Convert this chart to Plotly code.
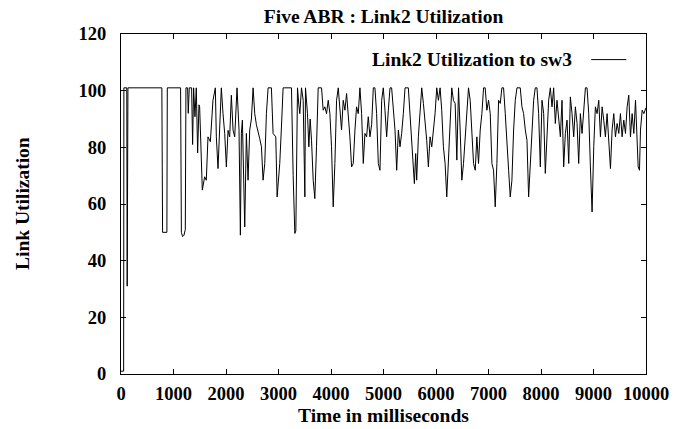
import plotly.graph_objects as go

# Time (ms) and link utilization (%)
time_ms = [
    0, 50, 55, 110, 118, 125, 132, 778, 792, 874, 882, 1135, 1150, 1173, 1200, 1225, 1237,
    1269, 1281, 1300, 1345, 1364, 1383, 1409, 1434, 1460, 1485,
    1498, 1549, 1593, 1625, 1657, 1702, 1752, 1797, 1816, 1848, 1880, 1911, 1943, 1975,
    2007, 2039, 2070, 2102, 2134, 2166, 2210, 2248, 2274, 2293, 2312, 2357, 2388, 2420,
    2452, 2484, 2516, 2547, 2579, 2611, 2643, 2675, 2706, 2738, 2770, 2802, 2865, 2897,
    2929, 2948, 2974, 3024, 3056, 3088,
    3120, 3247, 3279, 3311, 3330, 3362, 3387, 3406, 3438, 3470, 3502, 3514, 3552, 3578,
    3603, 3629, 3661, 3692, 3724, 3756, 3820, 3851, 3883, 3915, 3947, 3979, 4010, 4042,
    4074, 4106, 4138, 4169, 4201, 4233, 4265, 4297, 4328, 4360, 4392, 4424, 4456, 4487,
    4519, 4551, 4583, 4615, 4646, 4678, 4710,
    4742, 4774, 4806, 4837, 4869, 4901, 4933, 4965, 4996, 5028, 5060, 5092, 5124, 5155,
    5187, 5219, 5251, 5283, 5314, 5346, 5378, 5410, 5473, 5505, 5537, 5569, 5588, 5613,
    5632, 5664, 5696, 5728, 5760, 5791, 5823, 5855, 5887, 5919, 5950, 5982, 6014, 6046,
    6078, 6109, 6141, 6173, 6205, 6237, 6268, 6300, 6332,
    6365, 6397, 6429, 6460, 6492, 6524, 6556, 6588, 6619, 6651, 6683, 6715, 6747, 6778,
    6810, 6842, 6874, 6906, 6937, 6969, 7001, 7033, 7065, 7096, 7128, 7160, 7192, 7224,
    7255, 7287, 7319, 7351, 7383, 7414, 7446, 7478, 7510, 7542, 7605, 7637, 7669, 7701,
    7733, 7764, 7796, 7828, 7860, 7891, 7923, 7955,
    7987, 8019, 8051, 8082, 8114, 8146, 8178, 8210, 8241, 8273, 8305, 8337, 8369, 8400,
    8432, 8464, 8496, 8528, 8559, 8591, 8623, 8655, 8687, 8718, 8750, 8782, 8814, 8846,
    8877, 8909, 8941, 8973, 9005, 9036, 9068, 9100, 9132, 9164, 9195, 9227, 9259, 9291,
    9323, 9354, 9386, 9418, 9450, 9482, 9513, 9545, 9577, 9609, 9641, 9672, 9704, 9736,
    9768, 9800, 9832, 9851, 9876, 9895, 9927, 9959, 10000,
]
utilization = [
    1, 1, 101, 101, 31, 50, 101, 101, 50, 50, 101, 101, 50, 48.5, 49, 51, 101,
    101, 92, 101, 101, 81, 101, 90.8, 101, 78, 95,
    94.3, 64.9, 69.6, 68.4, 83.7, 82, 96.6, 101, 83.7, 72.5, 85, 101, 91.9, 84.9,
    73.1, 86, 83.7, 98.4, 86.1, 83.7, 101, 86.1, 49.0, 85, 89.6, 51.9, 84.9, 68.4,
    86.1, 90, 101, 91.9, 88, 84.9, 83, 80.2, 68.4, 74.3, 91.9, 101, 101, 84.9,
    84, 83.7, 62.5, 74.3, 87.2, 101,
    101, 101, 70, 49.6, 50.5, 101, 95, 91.9, 101, 96.6, 62.5, 101, 91.9, 80.2,
    90, 82.5, 68.4, 61.9, 80.2, 101, 101, 93.1, 94.3, 91.9, 96.6, 91.9, 80.2, 59.0,
    74.3, 96.6, 101, 94.3, 86.1, 96.6, 93.1, 99, 91.9, 83.7, 73.1, 74.3, 86.1, 94.3,
    91.9, 101, 91.9, 74.3, 84.9, 83.7, 90.8,
    83.7, 88, 101, 101, 91.9, 74.3, 71.9, 96.6, 101, 93.1, 83.7, 93.1, 101, 101,
    94.3, 86.1, 71.9, 86.1, 80.2, 84.9, 91.9, 101, 101, 91.9, 81.4, 73.1, 67.2, 77.8,
    68.4, 83.7, 94.3, 101, 95.5, 89.6, 82.5, 73.1, 83.7, 80.2, 84.9, 91.9, 101, 96.6,
    101, 93.1, 80.2, 74.3, 62.5, 76.6, 91.9, 101, 96.6,
    95.5, 75.5, 101, 86.1, 68.4, 74.3, 82.5, 94.3, 101, 96.6, 86.1, 74.3, 71.9, 83.7,
    74.3, 86.1, 91.9, 101, 101, 93.1, 96.6, 91.9, 74.3, 71.9, 59.0, 74.3, 96.6, 95.5,
    101, 101, 91.9, 80.2, 71.9, 62.5, 68.4, 86.1, 96.6, 101, 101, 94.3, 91.9, 86.1,
    82.5, 62.5, 74.3, 84.9, 96.6, 101, 101, 91.9,
    73.1, 96.6, 91.9, 70.8, 86.1, 96.6, 101, 94.3, 101, 88.4, 96.6, 89.6, 83.7, 96.6,
    73.1, 84.9, 89.6, 74.3, 97.8, 91.9, 83.7, 94.3, 88.4, 74.3, 91.9, 84.9, 94.3, 101,
    101, 91.9, 73.1, 57.2, 80.2, 94.3, 91.9, 96.6, 83.7, 94.3, 89.6, 83.7, 91.9, 82.5,
    72.5, 86.1, 91.9, 83.7, 88.4, 84.9, 91.9, 83.7, 89.6, 84.9, 94.3, 98.4, 83.7, 91.9,
    84.9, 96.6, 80.2, 73.1, 71.9, 86.1, 93.1, 91.9, 94,
]

x_ticks = [0, 1000, 2000, 3000, 4000, 5000, 6000, 7000, 8000, 9000, 10000]
x_tick_text = ["0", "1000", "2000", "3000", "4000", "5000", "6000", "7000", "8000", "9000", "10000"]
y_ticks = [0, 20, 40, 60, 80, 100, 120]
y_tick_text = ["0", "20", "40", "60", "80", "100", "120"]

FONT = "Liberation Serif"
FS = 19.5
FS_TICK = 18.5

fig = go.Figure()
fig.add_trace(go.Scatter(
    x=time_ms, y=utilization, mode="lines",
    line=dict(color="black", width=1),
    name="Link2 Utilization to sw3", showlegend=False,
))

axis_common = dict(
    showline=True, linecolor="black", linewidth=1, mirror="ticks",
    ticks="inside", ticklen=5, tickcolor="black", tickwidth=1,
    showgrid=False, zeroline=False,
    tickfont=dict(family=FONT, size=FS_TICK, color="black", weight="bold"),
)

fig.update_layout(
    width=688, height=429,
    margin=dict(l=121, r=42, t=34, b=55),
    paper_bgcolor="white", plot_bgcolor="white",
    title=dict(text="<b>Five ABR : Link2 Utilization</b>", x=0.5575, xanchor="center",
               yref="container", y=1 - 16.0 / 429, yanchor="middle",
               font=dict(family=FONT, size=FS, color="black")),
    xaxis=dict(range=[0, 10000], tickvals=x_ticks, ticktext=x_tick_text,
               ticklabelstandoff=3, **axis_common),
    yaxis=dict(range=[0, 120], tickvals=y_ticks, ticktext=y_tick_text,
               ticklabelstandoff=10, **axis_common),
)

# axis titles
fig.add_annotation(
    xref="paper", yref="paper", x=0.5, y=-0.1235, xanchor="center", yanchor="middle",
    text="<b>Time in milliseconds</b>", showarrow=False,
    font=dict(family=FONT, size=FS, color="black"),
)
fig.add_annotation(
    xref="paper", yref="paper", x=-0.1879, y=0.501, xanchor="center", yanchor="middle",
    text="<b>Link Utilization</b>", showarrow=False, textangle=-90,
    font=dict(family=FONT, size=FS, color="black"),
)

# key (text then line sample, gnuplot style)
fig.add_annotation(
    xref="paper", yref="paper", x=0.8625, y=0.9247, xanchor="right", yanchor="middle",
    text="<b>Link2 Utilization to sw3</b>", showarrow=False,
    font=dict(family=FONT, size=FS, color="black"),
)
fig.add_shape(type="line", xref="paper", yref="paper",
              x0=0.8956, x1=0.9624, y0=0.9247, y1=0.9247,
              line=dict(color="black", width=1))

fig.write_html("out.html")
